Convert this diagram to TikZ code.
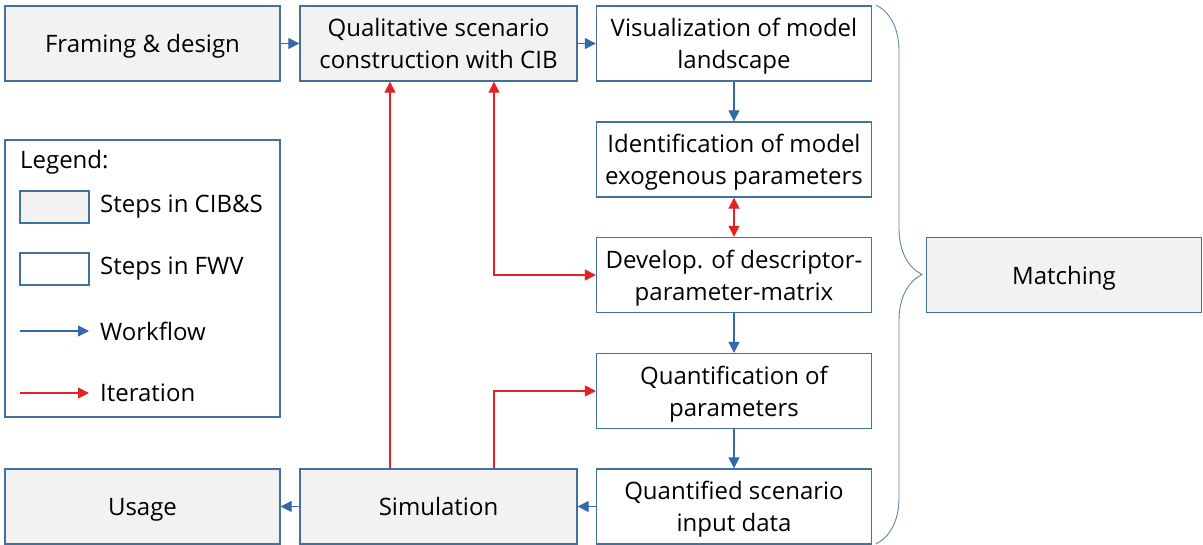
\documentclass[tikz,border=0pt]{standalone}
\usepackage{fontspec}
\setmainfont{Open Sans}
\usepackage{xcolor}
\usetikzlibrary{arrows.meta, positioning, decorations.pathreplacing}

\definecolor{boxblue}{RGB}{65,113,156}
\definecolor{flowblue}{RGB}{52,104,168}
\definecolor{iterred}{RGB}{226,35,38}
\definecolor{cibgray}{RGB}{242,242,242}

\tikzset{
  stepbox/.style={draw=boxblue, line width=1.3pt, minimum width=275pt, minimum height=75pt,
    inner sep=0pt, text depth=0pt, align=center, font=\fontsize{24}{32}\selectfont},
  cibbox/.style={stepbox, fill=cibgray},
  fwvbox/.style={stepbox, fill=white},
  flow/.style={draw=flowblue, line width=1.2pt, -{Triangle[length=11pt, width=11pt]}},
  iter/.style={draw=iterred, line width=1.2pt, -{Triangle[length=11pt, width=11pt]}},
  legtext/.style={anchor=west, inner sep=0pt, font=\fontsize{24}{32}\selectfont}
}

\begin{document}
\begin{tikzpicture}[x=1pt, y=-1pt]
  \useasboundingbox (0,0) rectangle (1203,545);

  % CIB&S steps
  \node[cibbox] (frame) at (142.5, 43.5) {Framing \& design};
  \node[cibbox, minimum width=277pt] (qual) at (438.5, 43.5) {Qualitative scenario\\construction with CIB};
  \node[cibbox, minimum width=277pt] (sim) at (438.5, 506.5) {Simulation};
  \node[cibbox] (usage) at (142.5, 506.5) {Usage};
  \node[cibbox] (match) at (1064, 275) {Matching};

  % FWV steps
  \node[fwvbox] (vis) at (734, 43.5) {Visualization of model\\landscape};
  \node[fwvbox] (ident) at (734, 159.5) {Identification of model\\exogenous parameters};
  \node[fwvbox] (dev) at (734, 275) {Develop. of descriptor-\\parameter-matrix};
  \node[fwvbox] (quant) at (734, 391) {Quantification of\\parameters};
  \node[fwvbox] (qdata) at (734, 506.5) {Quantified scenario\\input data};

  % Workflow
  \draw[flow] (frame) -- (qual);
  \draw[flow] (qual) -- (vis);
  \draw[flow] (vis) -- (ident);
  \draw[flow] (dev) -- (quant);
  \draw[flow] (quant) -- (qdata);
  \draw[flow] (qdata) -- (sim);
  \draw[flow] (sim) -- (usage);

  % Iteration
  \draw[iter, {Triangle[length=11pt, width=11pt]}-{Triangle[length=11pt, width=11pt]}] (ident) -- (dev);
  \draw[iter] ([xshift=-48.5pt]sim.north) -- ([xshift=-48.5pt]qual.south);
  \draw[iter, {Triangle[length=11pt, width=11pt]}-{Triangle[length=11pt, width=11pt]}] ([xshift=55.5pt]qual.south) |- (dev.west);
  \draw[iter] ([xshift=55.5pt]sim.north) |- (quant.west);

  % Matching brace
  \coordinate (bracetop) at (876, 5);
  \coordinate (bracebot) at (876, 544);
  \draw[draw=boxblue!85, line width=0.9pt, decorate, decoration={brace, amplitude=46pt}] (bracetop) -- (bracebot);

  % Legend
  \node[draw=boxblue, line width=1.3pt, minimum width=275pt, minimum height=277pt, inner sep=0pt] (legend) at (142.5, 278.5) {};
  \node[legtext] (legtitle) at (20, 162) {Legend:};
  \node[cibbox, minimum width=69pt, minimum height=32pt] (legcib) at (54.5, 207) {};
  \node[legtext] (legcibtext) at (100, 207) {Steps in CIB\&S};
  \node[fwvbox, minimum width=69pt, minimum height=32pt] (legfwv) at (54.5, 269) {};
  \node[legtext] (legfwvtext) at (100, 269) {Steps in FWV};
  \coordinate (legflowstart) at (20, 331);
  \node[legtext] (legflowtext) at (100, 331) {Workflow};
  \draw[flow] (legflowstart) -- ([xshift=-11pt]legflowtext.west);
  \coordinate (legiterstart) at (20, 393);
  \node[legtext] (legitertext) at (100, 393) {Iteration};
  \draw[iter] (legiterstart) -- ([xshift=-11pt]legitertext.west);
\end{tikzpicture}
\end{document}
